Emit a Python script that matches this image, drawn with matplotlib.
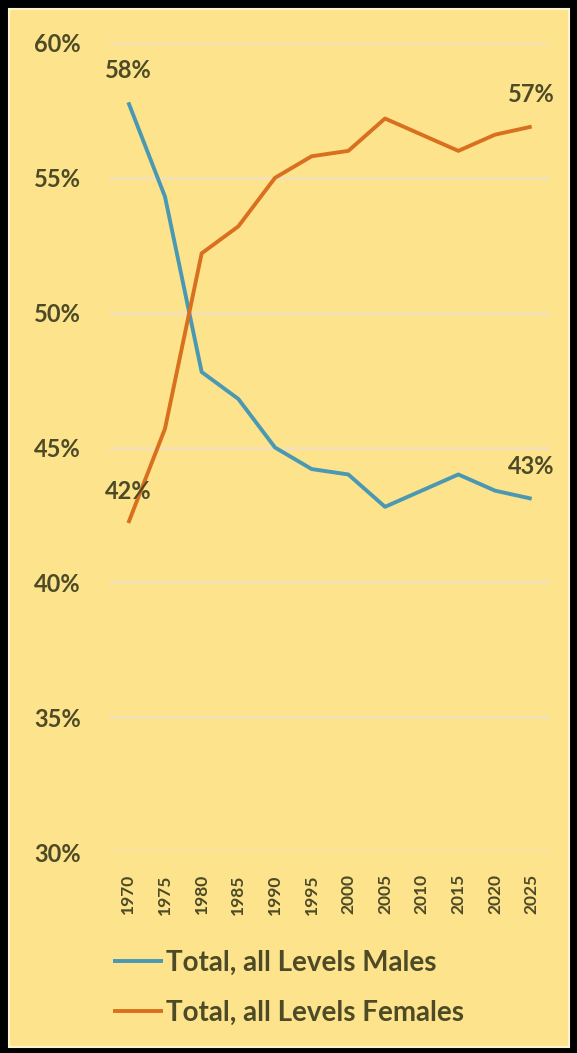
import numpy as np
import matplotlib.pyplot as plt
from matplotlib.patches import Rectangle

# data
years = ['1970', '1975', '1980', '1985', '1990', '1995', '2000', '2005', '2010', '2015', '2020', '2025']
males = [57.8, 54.3, 47.8, 46.8, 45.0, 44.2, 44.0, 42.8, 43.4, 44.0, 43.4, 43.1]
females = [42.2, 45.7, 52.2, 53.2, 55.0, 55.8, 56.0, 57.2, 56.6, 56.0, 56.6, 56.9]
y_ticks = [30, 35, 40, 45, 50, 55, 60]

bg = '#fde48c'
txt = '#4d4a26'
blue = '#4a98b2'
orange = '#d8701f'

plt.rcParams['font.family'] = ['Lato', 'DejaVu Sans']

fig = plt.figure(figsize=(5.77, 10.53), dpi=100, facecolor='black')
W, H = 577, 1053

# yellow panel inside the black frame
fig.patches.append(Rectangle((9 / W, 1 - 1047 / H), 560 / W, 1038 / H,
                             transform=fig.transFigure, facecolor=bg,
                             edgecolor='#fdf3d0', linewidth=1.5, zorder=-10))

ax = fig.add_axes([110 / W, 1 - 852 / H, 440 / W, 809 / H])
ax.set_facecolor('none')

x = np.arange(len(years))
ax.plot(x, males, color=blue, lw=2.8, label='Total, all Levels Males', solid_capstyle='butt')
ax.plot(x, females, color=orange, lw=2.8, label='Total, all Levels Females', solid_capstyle='butt')

ax.set_xlim(-0.5, len(years) - 0.5)
ax.set_ylim(30, 60)
ax.set_yticks(y_ticks)
ax.set_yticklabels([f'{t}%' for t in y_ticks], fontsize=17, color=txt, fontweight='bold')
ax.set_xticks(x)
ax.set_xticklabels(years, rotation=90, fontsize=12.5, color=txt, fontweight='bold')
ax.tick_params(length=0)
ax.tick_params(axis='y', pad=21)
ax.tick_params(axis='x', pad=16)
for s in ax.spines.values():
    s.set_visible(False)
ax.grid(axis='y', color='#f2e0bc', lw=1.8)
ax.set_axisbelow(True)

# end labels
for i, series in [(0, males), (0, females), (len(years) - 1, males), (len(years) - 1, females)]:
    ax.annotate(f'{round(series[i])}%', (x[i], series[i]), xytext=(0, 23),
                textcoords='offset points', ha='center', va='center',
                fontsize=17, color=txt, fontweight='bold')

leg = fig.legend(loc='upper left', bbox_to_anchor=(88 / W, 1 - 925 / H), frameon=False,
                 fontsize=20, labelcolor=txt, handlelength=1.8, handletextpad=0.1,
                 labelspacing=0.85)
for t in leg.get_texts():
    t.set_fontweight('bold')

fig.savefig('out.png', dpi=100, facecolor=fig.get_facecolor())
